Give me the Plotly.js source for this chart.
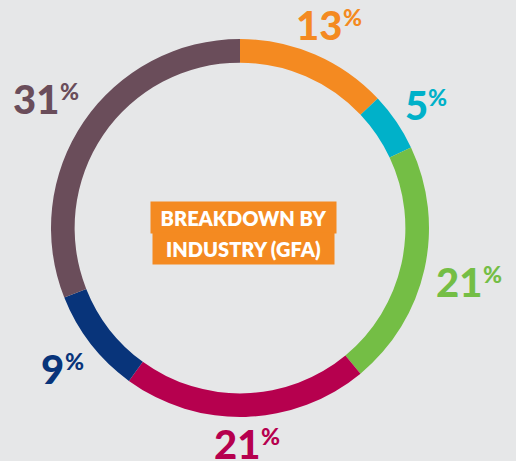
<!DOCTYPE html>
<html>
<head>
<meta charset="utf-8">
<script src="https://cdn.plot.ly/plotly-3.0.1.min.js"></script>
<style>html,body{margin:0;padding:0;background:#e6e7e8;}#chart{width:516px;height:461px;}</style>
</head>
<body>
<div id="chart"></div>
<script>
const categories = ["Segment A", "Segment B", "Segment C", "Segment D", "Segment E", "Segment F"];
const values = [13, 5, 21, 21, 9, 31];
const colors = ["#f48a21", "#00b1c9", "#74be45", "#b6004e", "#08347a", "#6a4d5a"];
const centerTitle = ["BREAKDOWN BY", "INDUSTRY (GFA)"];

const W = 516, H = 461;
const margin = {l: 51, r: 87, t: 39, b: 44};
const plotW = W - margin.l - margin.r, plotH = H - margin.t - margin.b;
const R = Math.min(plotW, plotH) / 2;
const cx = margin.l + plotW / 2, cy = margin.t + plotH / 2;
const toX = px => (px - margin.l) / plotW;
const toY = py => 1 - (py - margin.t) / plotH;

const FONT = "Lato, 'Open Sans', sans-serif";
const digitW = 23.5, pctW = 22, labelH = 30, gap = 8;
const total = values.reduce((a, b) => a + b, 0);

const annotations = [];
let cum = 0;
values.forEach((v, i) => {
  const mid = (cum + v / 2) / total * 2 * Math.PI;
  cum += v;
  const s = Math.sin(mid), c = Math.cos(mid);
  const hw = (String(v).length * digitW + pctW + 1) / 2, hh = labelH / 2;
  const d = R + gap + hw * Math.abs(s) + hh * Math.abs(c);
  const lx = cx + d * s, ly = cy - d * c;
  annotations.push({
    xref: "paper", yref: "paper", x: toX(lx - hw), y: toY(ly),
    xanchor: "left", yanchor: "middle", showarrow: false, yshift: -3,
    text: String(v), height: 30,
    font: {family: FONT, size: 40, weight: 900, color: colors[i]}
  });
  annotations.push({
    xref: "paper", yref: "paper", x: toX(lx + hw), y: toY(ly),
    xanchor: "right", yanchor: "middle", showarrow: false, yshift: 5,
    text: "%", height: 18,
    font: {family: FONT, size: 23, weight: 900, color: colors[i]}
  });
});

centerTitle.forEach((t, k) => {
  annotations.push({
    xref: "paper", yref: "paper", x: toX(cx + 3), y: toY(cy - 10.5 + k * 30.5),
    xanchor: "center", yanchor: "middle", showarrow: false,
    text: t,
    font: {family: FONT, size: 20, weight: 800, color: "#ffffff"},
    bgcolor: "#f48a21", borderpad: 0, width: k === 0 ? 185 : 181, height: 31
  });
});

const data = [{
  type: "pie",
  labels: categories,
  values: values,
  marker: {colors: colors, line: {width: 0}},
  hole: 0.875,
  sort: false,
  direction: "clockwise",
  rotation: 0,
  textinfo: "none",
  hoverinfo: "label+percent",
  domain: {x: [0, 1], y: [0, 1]}
}];

const layout = {
  width: W, height: H,
  margin: margin,
  showlegend: false,
  paper_bgcolor: "#e6e7e8",
  plot_bgcolor: "#e6e7e8",
  annotations: annotations
};

Plotly.newPlot("chart", data, layout, {displayModeBar: false, staticPlot: true});
</script>
</body>
</html>
